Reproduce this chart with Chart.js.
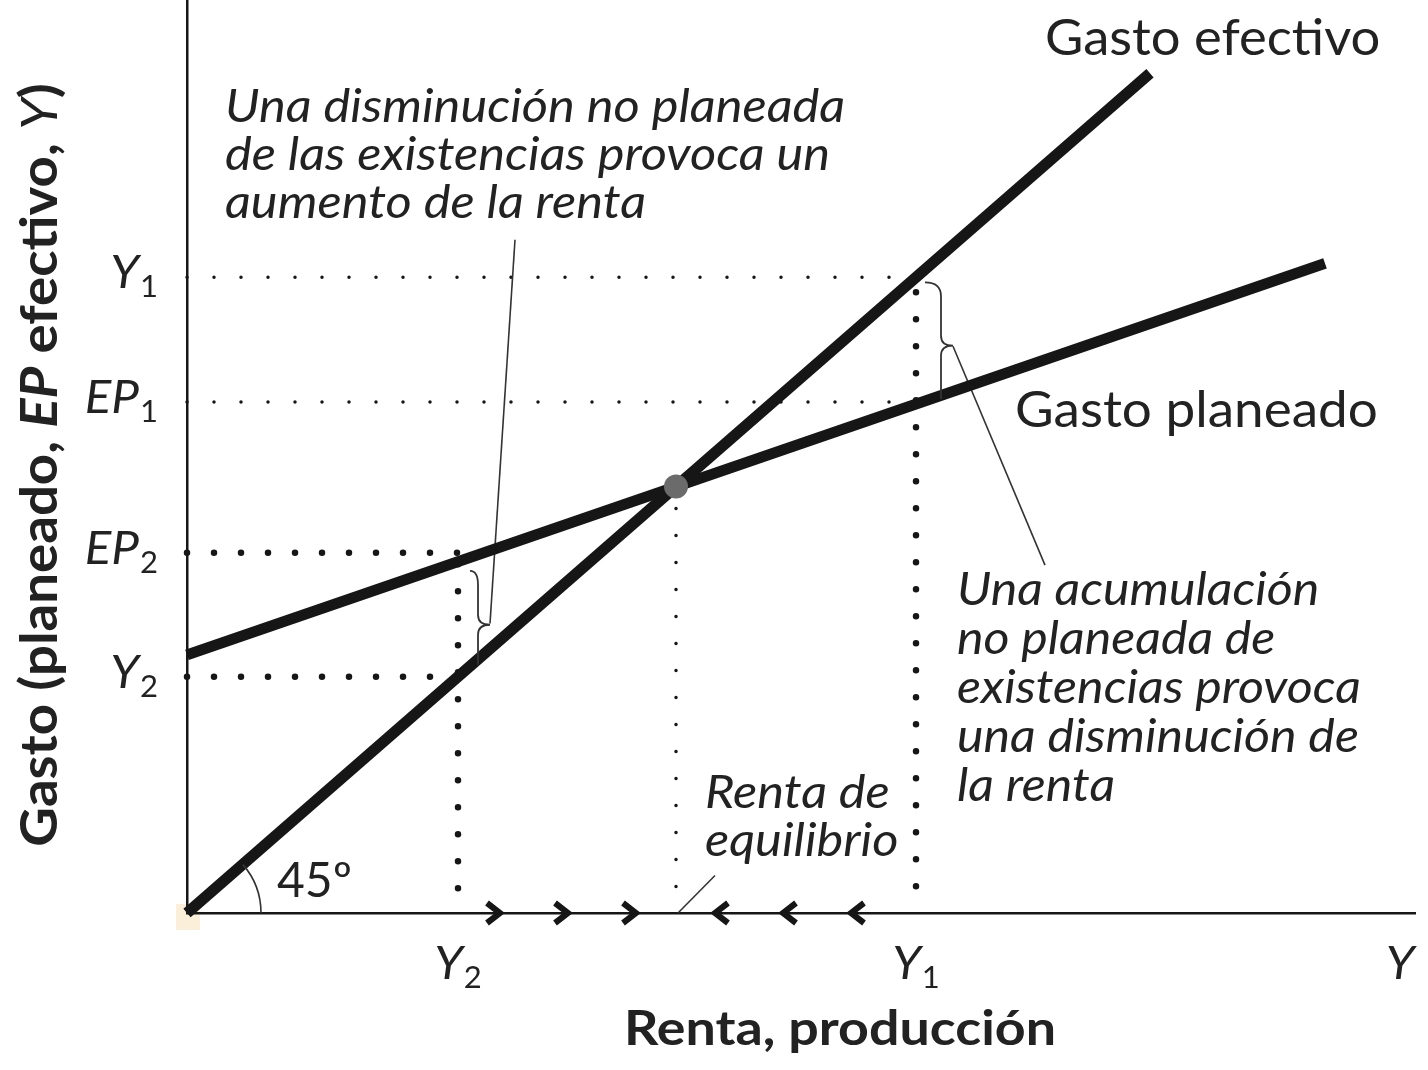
<!DOCTYPE html>
<html>
<head>
    <meta charset="utf-8"/>
    <title>Gasto planeado y gasto efectivo</title>
    <script src="https://cdn.jsdelivr.net/npm/chart.js@4.4.1/dist/chart.umd.min.js"></script>
    <style>
        body { margin: 0; background: #fff; }
        .chart-container { position: relative; width: 1428px; height: 1070px; }
    </style>
</head>
<body>
    <div class="chart-container">
        <canvas id="myChart"></canvas>
    </div>
    <script>
        // values are in income units, so the 45 degree line is EP = Y
        const actualX = [0, 963];
        const actualY = [0, 963];
        const plannedX = [0, 1138];
        const plannedY = [296, 745];
        const equilibrium = [489, 489];          // Y*, EP*
        const incomeLevels = [271, 729];         // Y2, Y1
        const plannedLevels = [413, 586];        // EP2, EP1
        const rightArrowsX = [308, 376, 444];
        const leftArrowsX = [533, 601, 669];

        const yTickValues = [729, 586, 413, 271];
        const yTickMain = ['Y', 'EP', 'EP', 'Y'];
        const yTickSub = ['1', '1', '2', '2'];
        const xTickValues = [271, 729, 1213];
        const xTickMain = ['Y', 'Y', 'Y'];
        const xTickSub = ['2', '1', ''];

        const [Y2, Y1] = incomeLevels;
        const [EP2, EP1] = plannedLevels;
        const INK = '#161616';
        const TXT = '#222';

        function pts(xs, ys) {
            return xs.map((x, i) => ({x: x, y: ys[i]}));
        }

        function chevron(dir) {
            const c = document.createElement('canvas');
            c.width = 26; c.height = 26;
            const g = c.getContext('2d');
            g.strokeStyle = INK;
            g.lineWidth = 6;
            g.lineJoin = 'miter';
            g.beginPath();
            if (dir > 0) { g.moveTo(5, 3); g.lineTo(18, 13); g.lineTo(5, 23); }
            else { g.moveTo(21, 3); g.lineTo(8, 13); g.lineTo(21, 23); }
            g.stroke();
            return c;
        }

        const smallDots = {borderColor: INK, borderWidth: 3.5, borderDash: [0, 27], borderCapStyle: 'round'};
        const boldDots = {borderColor: INK, borderWidth: 6.5, borderDash: [0, 27], borderCapStyle: 'round'};

        function guide(data, style) {
            return Object.assign({data: data, showLine: true, pointRadius: 0, fill: false, order: 3}, style);
        }
        function leader(data) {
            return {data: data, showLine: true, pointRadius: 0, borderColor: '#333', borderWidth: 1.6, order: 2};
        }

        function font(style, weight, size) {
            return style + ' ' + weight + ' ' + size + 'px Lato, "Open Sans", sans-serif';
        }

        // text stretched horizontally a little, like the printed face
        function wideText(ctx, text, x, y, sx) {
            ctx.save();
            ctx.translate(x, y);
            ctx.scale(sx, 1);
            ctx.textAlign = 'left';
            ctx.fillText(text, 0, 0);
            ctx.restore();
            return ctx.measureText(text).width * sx;
        }

        // main italic letter(s) with an upright subscript
        function subLabel(ctx, main, sub, x, y, align) {
            ctx.font = font('italic', 400, 47);
            const wm = ctx.measureText(main).width * 1.05;
            ctx.font = font('normal', 400, 31);
            const ws = sub ? ctx.measureText(sub).width + 1 : 0;
            const total = wm + ws;
            let x0 = x;
            if (align === 'right') x0 = x - total;
            if (align === 'center') x0 = x - total / 2;
            ctx.textBaseline = 'alphabetic';
            ctx.font = font('italic', 400, 47);
            wideText(ctx, main, x0, y, 1.05);
            if (sub) {
                ctx.font = font('normal', 400, 31);
                wideText(ctx, sub, x0 + wm + 1, y + 9, 1);
            }
        }

        function textBlock(ctx, lines, x, y, lh, f, sx) {
            ctx.font = f;
            ctx.textBaseline = 'alphabetic';
            lines.forEach((l, i) => wideText(ctx, l, x, y + i * lh, sx));
        }

        // curly brace: starts at (x0, yTop), runs down at xv, tip at xt
        function brace(ctx, x0, xv, xt, yTop, yTip, yBot) {
            ctx.beginPath();
            ctx.moveTo(x0, yTop);
            ctx.quadraticCurveTo(xv, yTop, xv, yTop + 14);
            ctx.lineTo(xv, yTip - 10);
            ctx.quadraticCurveTo(xv, yTip, xt, yTip);
            ctx.quadraticCurveTo(xv, yTip, xv, yTip + 10);
            ctx.lineTo(xv, yBot);
            ctx.stroke();
        }

        const decorations = {
            id: 'decorations',
            beforeDraw(chart) {
                const ctx = chart.ctx;
                const xs = chart.scales.x, ys = chart.scales.y;
                ctx.save();
                ctx.fillStyle = '#fcefd9';
                ctx.fillRect(xs.getPixelForValue(0) - 11, ys.getPixelForValue(0) - 9, 24, 26);
                ctx.restore();
            },
            afterDatasetsDraw(chart) {
                const ctx = chart.ctx;
                const xs = chart.scales.x, ys = chart.scales.y;
                const ox = xs.getPixelForValue(0), oy = ys.getPixelForValue(0);
                ctx.save();
                ctx.strokeStyle = '#333';
                ctx.lineWidth = 1.8;
                // braces
                const b1x = xs.getPixelForValue(Y1);
                brace(ctx, b1x + 9, b1x + 25, b1x + 37,
                    ys.getPixelForValue(Y1) + 5, (ys.getPixelForValue(Y1) + ys.getPixelForValue(EP1)) / 2 + 6,
                    ys.getPixelForValue(EP1) - 3);
                const b2x = xs.getPixelForValue(Y2);
                brace(ctx, b2x + 12, b2x + 20, b2x + 32,
                    ys.getPixelForValue(EP2) + 18, (ys.getPixelForValue(EP2) + ys.getPixelForValue(Y2)) / 2 + 10,
                    ys.getPixelForValue(Y2) - 12);
                // 45 degree arc
                const ang = Math.atan2(oy - ys.getPixelForValue(actualY[1]), xs.getPixelForValue(actualX[1]) - ox);
                ctx.lineWidth = 1.6;
                ctx.beginPath();
                ctx.arc(ox, oy, 74, -ang, 0);
                ctx.stroke();
                ctx.restore();
            },
            afterDraw(chart) {
                const ctx = chart.ctx;
                const xs = chart.scales.x, ys = chart.scales.y;
                ctx.save();
                ctx.fillStyle = TXT;
                ctx.textBaseline = 'alphabetic';

                // tick labels
                yTickValues.forEach((v, i) => {
                    subLabel(ctx, yTickMain[i], yTickSub[i], 158, ys.getPixelForValue(v) + 11, 'right');
                });
                xTickValues.forEach((v, i) => {
                    subLabel(ctx, xTickMain[i], xTickSub[i], xs.getPixelForValue(v), 979, 'center');
                });

                // line names
                ctx.font = font('normal', 400, 51);
                wideText(ctx, 'Gasto efectivo', 1045, 55, 1.03);
                wideText(ctx, 'Gasto planeado', 1015, 427, 1.04);
                ctx.font = font('normal', 400, 48);
                wideText(ctx, '45º', 277, 897, 1.0);

                // notes
                const it = font('italic', 400, 46);
                textBlock(ctx, ['Una disminución no planeada', 'de las existencias provoca un',
                    'aumento de la renta'], 225, 122, 48, it, 1.1);
                textBlock(ctx, ['Una acumulación', 'no planeada de', 'existencias provoca',
                    'una disminución de', 'la renta'], 957, 605, 49, it, 1.09);
                textBlock(ctx, ['Renta de', 'equilibrio'], 705, 808, 48, it, 1.1);

                // x axis title
                ctx.font = font('normal', 700, 48);
                const tw = ctx.measureText('Renta, producción').width * 1.12;
                wideText(ctx, 'Renta, producción', 840 - tw / 2, 1045, 1.12);

                // y axis title, mixed styles
                const sx = 1.07;
                const parts = [
                    ['normal', 700, 'Gasto (planeado, '],
                    ['italic', 700, 'EP'],
                    ['normal', 700, ' efectivo, '],
                    ['italic', 400, 'Y'],
                    ['normal', 700, ')']
                ];
                let total = 0;
                parts.forEach(p => { ctx.font = font(p[0], p[1], 51); total += ctx.measureText(p[2]).width * sx; });
                ctx.translate(57, 465);
                ctx.rotate(-Math.PI / 2);
                let px = -total / 2;
                parts.forEach(p => {
                    ctx.font = font(p[0], p[1], 51);
                    px += wideText(ctx, p[2], px, 0, sx);
                });
                ctx.restore();
            }
        };

        const ctx = document.getElementById('myChart').getContext('2d');
        const myChart = new Chart(ctx, {
            type: 'scatter',
            data: {
                datasets: [
                    {data: [{x: equilibrium[0], y: equilibrium[1]}], pointRadius: 12,
                        backgroundColor: '#6b6b6b', borderWidth: 0, order: 0},
                    {data: rightArrowsX.map(x => ({x: x, y: 0})), pointStyle: chevron(1), order: 0},
                    {data: leftArrowsX.map(x => ({x: x, y: 0})), pointStyle: chevron(-1), order: 0},
                    {data: pts(actualX, actualY), showLine: true, pointRadius: 0,
                        borderColor: INK, borderWidth: 11, order: 1},
                    {data: pts(plannedX, plannedY), showLine: true, pointRadius: 0,
                        borderColor: INK, borderWidth: 11, order: 1},
                    // guides
                    guide([{x: 0, y: Y1}, {x: Y1, y: Y1}], smallDots),
                    guide([{x: 0, y: EP1}, {x: Y1, y: EP1}], smallDots),
                    guide([{x: equilibrium[0], y: equilibrium[1] - 25}, {x: equilibrium[0], y: 0}], smallDots),
                    guide([{x: 0, y: EP2}, {x: Y2, y: EP2}], boldDots),
                    guide([{x: 0, y: Y2}, {x: Y2, y: Y2}], boldDots),
                    guide([{x: Y2, y: 400}, {x: Y2, y: 0}], boldDots),
                    guide([{x: Y1, y: 712}, {x: Y1, y: 0}], boldDots),
                    // leader lines of the notes
                    leader([{x: 766, y: 650}, {x: 858, y: 399}]),
                    leader([{x: 303, y: 332}, {x: 328, y: 772}]),
                    leader([{x: 528, y: 43}, {x: 491, y: 0}])
                ]
            },
            options: {
                responsive: true,
                maintainAspectRatio: false,
                animation: false,
                clip: false,
                layout: {autoPadding: false, padding: {left: 0, right: 13, top: 0, bottom: 0}},
                plugins: {legend: {display: false}, tooltip: {enabled: false}},
                elements: {line: {tension: 0}},
                scales: {
                    x: {
                        type: 'linear', min: 0, max: 1228,
                        grid: {display: false},
                        ticks: {display: false},
                        border: {color: INK, width: 2.5},
                        afterFit: s => { s.height = 157; }
                    },
                    y: {
                        type: 'linear', min: 0, max: 1047,
                        grid: {display: false},
                        ticks: {display: false},
                        border: {color: INK, width: 2.5},
                        afterFit: s => { s.width = 187; }
                    }
                }
            },
            plugins: [decorations]
        });
    </script>
</body>
</html>
